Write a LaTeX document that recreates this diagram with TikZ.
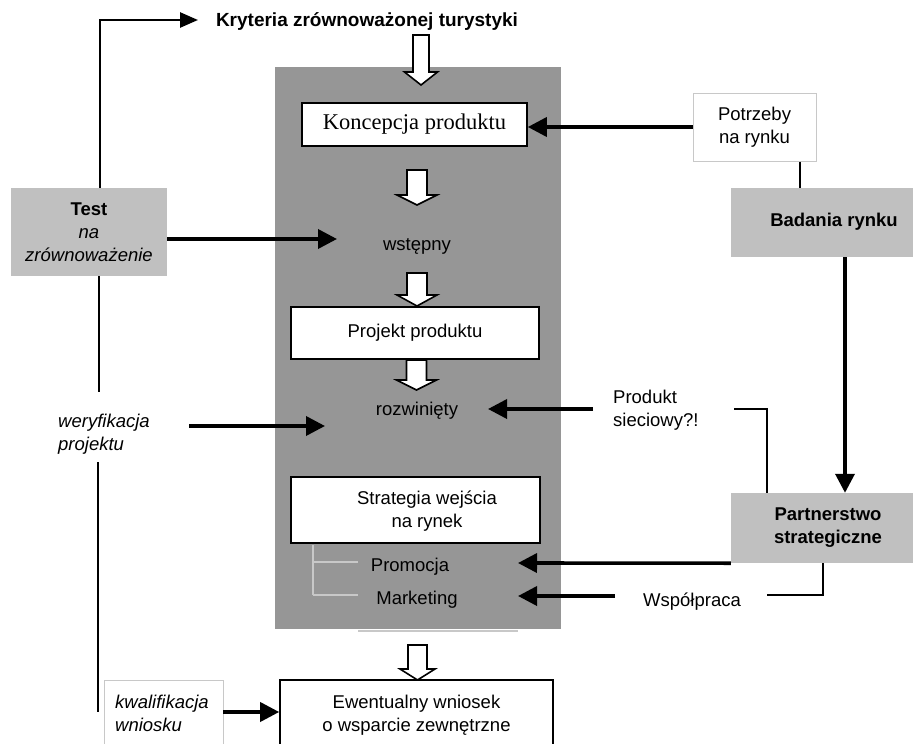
\documentclass[tikz,border=0pt]{standalone}
\usepackage{fontspec}
\setmainfont{Liberation Sans}
\newfontfamily\serifk{Liberation Serif}
\usetikzlibrary{arrows.meta}
\definecolor{panel}{RGB}{150,150,150}
\definecolor{lightbox}{RGB}{192,192,192}
\definecolor{thinline}{RGB}{200,200,200}
\newcommand\basefont{\fontsize{18.5}{23}\selectfont}
\newcommand\hollowarrow[6]{%
  \draw[hollow] (#1-#5,#2) -- (#1+#5,#2) -- (#1+#5,#3) -- (#1+#6,#3) -- (#1,#4) -- (#1-#6,#3) -- (#1-#5,#3) -- cycle;}
\begin{document}
\begin{tikzpicture}[x=1pt,y=-1pt,
  font=\basefont,
  every node/.style={inner sep=0pt},
  box/.style={draw, line width=1.6pt, fill=white, align=center},
  greybox/.style={fill=lightbox, align=center},
  panelbox/.style={fill=panel},
  itext/.style={font=\basefont\itshape},
  btext/.style={font=\basefont\bfseries},
  arr/.style={line width=3.6pt, -{Triangle[length=19pt,width=19pt]}},
  arrtop/.style={line width=2.6pt, -{Triangle[length=18pt,width=15pt]}},
  plainline/.style={line width=2.4pt},
  faint/.style={draw=thinline, line width=1.5pt},
  hollow/.style={draw, line width=1.6pt, fill=white, line join=miter}]
\useasboundingbox (0,0) rectangle (913,744);

% central panel
\node[panelbox, minimum width=286pt, minimum height=562pt] (panel) at (418,348) {};

% texts and boxes
\node[font=\bfseries\fontsize{19}{23}\selectfont] (kryt) at (367,22) {Kryteria zrównoważonej turystyki};
\node[box, minimum width=225pt, minimum height=43pt, font=\serifk\fontsize{22.5}{26}\selectfont] (konc) at (414.5,124.5) {Koncepcja produktu};
\node (wst) at (417,246) {wstępny};
\node[box, minimum width=248pt, minimum height=52pt] (proj) at (415,333) {Projekt produktu};
\node (rozw) at (417,411) {rozwinięty};
\node[box, minimum width=249pt, minimum height=66pt] (strat) at (415.5,510) {};
\node[align=center] (strattxt) at (427,511) {Strategia wejścia\\na rynek};
\node (prom) at (410,567) {Promocja};
\node (mark) at (417,600) {Marketing};
\node[box, minimum width=273pt, minimum height=70pt] (ewent) at (416.5,715) {Ewentualny wniosek\\o wsparcie zewnętrzne};

\node[draw=thinline, line width=1pt, minimum width=119pt, minimum height=70pt] (kwalbox) at (163.5,715) {};
\node[itext, anchor=west, align=left] (kwal) at (115,713.5) {kwalifikacja\\wniosku};

\node[greybox, minimum width=156pt, minimum height=88pt] (test) at (89,232) {\textbf{Test}\\\textit{na}\\\textit{zrównoważenie}};
\node[itext, anchor=west, align=left] (weryf) at (58,434.5) {weryfikacja\\projektu};

\node[draw=thinline, line width=1pt, fill=white, minimum width=123pt, minimum height=68pt, align=center] (potrz) at (754.5,127) {Potrzeby\\na rynku};
\node[greybox, minimum width=182pt, minimum height=69pt] (badan) at (822,222.5) {};
\node[btext] (badantxt) at (834,222) {Badania rynku};
\node[greybox, minimum width=182pt, minimum height=70pt] (partn) at (822,528) {};
\node[btext, align=center] (partntxt) at (828,528) {Partnerstwo\\strategiczne};
\node[anchor=west, align=left] (prod) at (613,410) {Produkt\\sieciowy?!};
\node (wsp) at (692,602) {Współpraca};

% faint bracket and line
\draw[faint] (313,545) -- (313,595);
\draw[faint] (313,562) -- (358,562);
\draw[faint] (313,595) -- (358,595);
\draw[draw=thinline, line width=1.2pt] (358,631) -- (518,631);

% hollow block arrows
\hollowarrow{421}{35}{72}{85}{8}{16.5}
\hollowarrow{417}{170}{195}{205}{10}{20}
\hollowarrow{417}{273}{295}{306}{10}{20}
\hollowarrow{416.5}{360}{380}{390}{10}{20}
\hollowarrow{417.5}{645}{669}{680}{9.5}{17.5}

% coordinates
\coordinate (kryin) at (198,20);
\coordinate (wstin) at (337,239);
\coordinate (railA) at (99,392);
\coordinate (railB) at (98,462);
\coordinate (railC) at (98,712);
\coordinate (weryfout) at (189,426);
\coordinate (rozwin) at (325,426);
\coordinate (kwalout) at (223,712);
\coordinate (pb) at (800,0);
\coordinate (bp) at (845,0);
\coordinate (prodout) at (593,409);
\coordinate (rozwR) at (488,409);
\coordinate (prodR) at (734,409);
\coordinate (brk) at (767,0);
\coordinate (promin) at (518,563);
\coordinate (b2) at (823,0);
\coordinate (wspR) at (767,595);
\coordinate (wspL) at (615,596);
\coordinate (markin) at (518,596);

% connectors
\draw[arrtop] ([xshift=11pt]test.north) |- (kryin);
\draw[arr] (test.east |- wstin) -- (wstin);
\draw[plainline] ([xshift=10pt]test.south) -- (railA);
\draw[arr] (weryfout) -- (rozwin);
\draw[plainline] (railB) -- (railC);
\draw[arr] (kwalout) -- (kwalout -| ewent.west);
\draw[arr] (potrz.west) -- (potrz.west -| konc.east);
\draw[plainline] (pb |- potrz.south) -- (pb |- badan.north);
\draw[arr] (bp |- badan.south) -- (bp |- partn.north);
\draw[arr] (prodout) -- (rozwR);
\draw[plainline, line width=2pt] (prodR) -| (brk |- partn.north);
\draw[arr] (partn.south west) -- (promin);
\draw[plainline, line width=2pt] (b2 |- partn.south) |- (wspR);
\draw[arr] (wspL) -- (markin);
\end{tikzpicture}
\end{document}
